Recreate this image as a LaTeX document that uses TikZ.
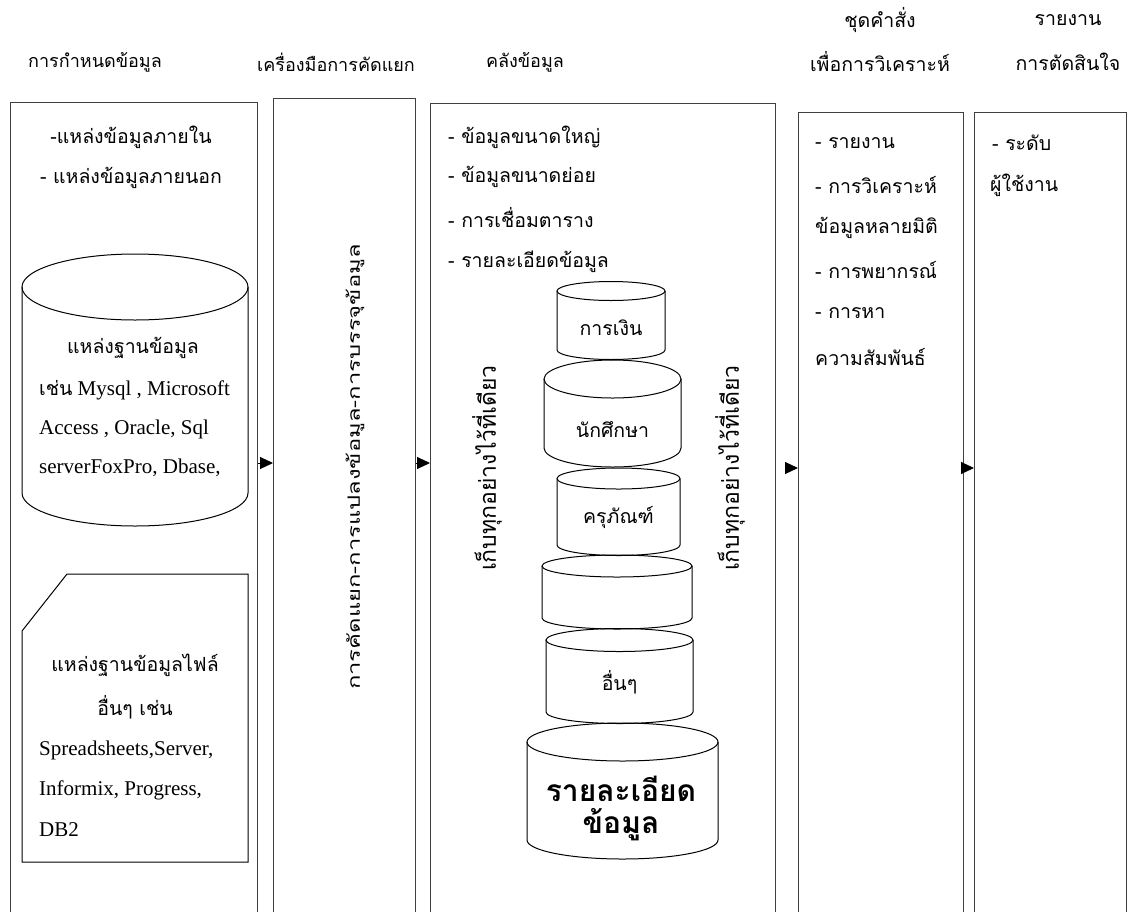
\documentclass[tikz,border=0pt]{standalone}
\usepackage{fontspec}
\setmainfont{Liberation Serif}
\newfontfamily\thaifont[Script=Thai]{Loma}
\newfontfamily\thaiwide[Script=Thai,FakeStretch=1.4]{Loma}
\usetikzlibrary{arrows.meta}
\newcommand\dbcyl[5]{%
  \draw[cyl] ({#1-#4},#2) -- ({#1-#4},#3) arc[start angle=180,end angle=360,x radius=#4pt,y radius=#5pt] -- ({#1+#4},#2);
  \draw[cyl] (#1,#2) ellipse[x radius=#4pt, y radius=#5pt];
}
\begin{document}
\begin{tikzpicture}[x=1pt,y=-1pt,
  lane/.style={draw=black!75, line width=1.2pt, anchor=north west, inner sep=0, minimum height=880pt},
  cyl/.style={draw=black, line width=1pt},
  head/.style={inner sep=0, font=\thaifont\fontsize{18}{20}\selectfont},
  headr/.style={inner sep=0, font=\thaifont\fontsize{19.5}{22}\selectfont},
  th/.style={inner sep=0, font=\thaifont\fontsize{19.5}{22}\selectfont},
  lat/.style={inner sep=0, font=\fontsize{21}{24}\selectfont},
  vert/.style={inner sep=0, rotate=90, font=\thaiwide\fontsize{17}{20}\selectfont},
  big/.style={inner sep=0, font=\thaifont\bfseries\fontsize{30}{33}\selectfont},
  arr/.style={-{Triangle[length=13pt,width=12pt]}, line width=1pt}
]
\useasboundingbox (0,0) rectangle (1134,911);

% headers
\node[head] (h1) at (95,62) {การกำหนดข้อมูล};
\node[head] (h2) at (336,62) {เครื่องมือการคัดแยก};
\node[head] (h3) at (525,62) {คลังข้อมูล};
\node[headr] (h4a) at (880,20) {ชุดคำสั่ง};
\node[headr] (h4b) at (880,62) {เพื่อการวิเคราะห์};
\node[headr] (h5a) at (1068,20) {รายงาน};
\node[headr] (h5b) at (1068,62) {การตัดสินใจ};

% lanes
\node[lane, minimum width=247pt] (b1) at (10,102) {};
\node[lane, minimum width=142pt] (b2) at (273,98) {};
\node[lane, minimum width=345pt] (b3) at (430,103) {};
\node[lane, minimum width=165pt] (b4) at (798,112) {};
\node[lane, minimum width=152pt] (b5) at (974,112) {};

% lane 1
\node[th] (t11) at (131,137) {-แหล่งข้อมูลภายใน};
\node[th] (t12) at (131,178) {- แหล่งข้อมูลภายนอก};
\dbcyl{135}{287}{493}{113}{33}
\node[th] (c1a) at (133,348) {แหล่งฐานข้อมูล};
\node[lat, anchor=west] (c1b) at (39,390) {{\thaifont\fontsize{19.5}{22}\selectfont เช่น} Mysql , Microsoft};
\node[lat, anchor=west] (c1c) at (39,429) {Access , Oracle, Sql};
\node[lat, anchor=west] (c1d) at (39,468) {serverFoxPro, Dbase,};
\draw[cyl] (67,574) -- (248,574) -- (248,862) -- (22,862) -- (22,631) -- cycle;
\node[th] (d1a) at (135,665) {แหล่งฐานข้อมูลไฟล์};
\node[th] (d1b) at (135,707) {อื่นๆ เช่น};
\node[lat, anchor=west] (d1c) at (39,750) {Spreadsheets,Server,};
\node[lat, anchor=west] (d1d) at (39,790) {Informix, Progress,};
\node[lat, anchor=west] (d1e) at (39,830) {DB2};

% lane 2
\node[vert] (v2) at (355,467) {การคัดแยก-การแปลงข้อมูล-การบรรจุข้อมูล};

% lane 3
\node[th, anchor=west] (t31) at (448,137) {- ข้อมูลขนาดใหญ่};
\node[th, anchor=west] (t32) at (448,177) {- ข้อมูลขนาดย่อย};
\node[th, anchor=west] (t33) at (448,218) {- การเชื่อมตาราง};
\node[th, anchor=west] (t34) at (448,262) {- รายละเอียดข้อมูล};
\node[vert, font=\thaifont\fontsize{23}{26}\selectfont] (v3a) at (487,468) {เก็บทุกอย่างไว้ที่เดียว};
\node[vert, font=\thaifont\fontsize{23}{26}\selectfont] (v3b) at (730,468) {เก็บทุกอย่างไว้ที่เดียว};
\dbcyl{611}{291}{350}{54}{9.5}
\node[th] (k1) at (611,328) {การเงิน};
\dbcyl{612.5}{379}{448}{68.5}{19}
\node[th] (k2) at (612.5,430) {นักศึกษา};
\dbcyl{618.5}{478.5}{545}{61.5}{10.5}
\node[th] (k3) at (618.5,517) {ครุภัณฑ์};
\dbcyl{617}{566}{618}{75}{11}
\dbcyl{619.5}{640}{712}{73.5}{11.5}
\node[th] (k5) at (619.5,682) {อื่นๆ};
\dbcyl{622.5}{742}{840}{95.5}{19}
\node[big] (k6a) at (621,789) {รายละเอียด};
\node[big] (k6b) at (621,825) {ข้อมูล};

% lane 4
\node[th, anchor=west] (t41) at (815,143) {- รายงาน};
\node[th, anchor=west] (t42) at (815,185) {- การวิเคราะห์};
\node[th, anchor=west] (t43) at (815,228) {ข้อมูลหลายมิติ};
\node[th, anchor=west] (t44) at (815,270) {- การพยากรณ์};
\node[th, anchor=west] (t45) at (815,313) {- การหา};
\node[th, anchor=west] (t46) at (815,357) {ความสัมพันธ์};

% lane 5
\node[th, anchor=west] (t51) at (992,143) {- ระดับ};
\node[th, anchor=west] (t52) at (990,185) {ผู้ใช้งาน};

% connectors
\coordinate (ya) at (0,463);
\coordinate (yb) at (0,468);
\draw[arr] (b1.east |- ya) -- (b2.west |- ya);
\draw[arr] (b2.east |- ya) -- (b3.west |- ya);
\draw[arr, shorten <=10pt] (b3.east |- yb) -- (b4.west |- yb);
\draw[arr] (b4.east |- yb) -- (b5.west |- yb);
\end{tikzpicture}
\end{document}
